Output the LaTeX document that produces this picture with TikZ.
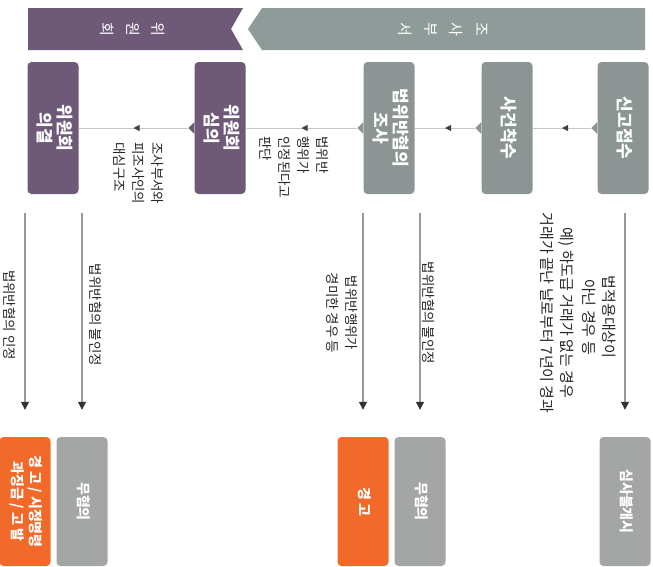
\documentclass[tikz,border=0pt]{standalone}
\usepackage{fontspec}
\setmainfont{Noto Sans CJK KR}
\usepackage{graphicx}
\usetikzlibrary{arrows.meta,decorations.markings}

\definecolor{jgray}{HTML}{8C9593}
\definecolor{bgray}{HTML}{8F9B98}
\definecolor{wpurple}{HTML}{6E5A78}
\definecolor{rorange}{HTML}{F26A2A}
\definecolor{rgray}{HTML}{A3A6A5}
\definecolor{lgray}{HTML}{C8C8C8}
\definecolor{agray}{HTML}{9A9A9A}

\newcommand{\vtxt}[1]{\rotatebox{-90}{\begin{tabular}{@{}c@{}}#1\end{tabular}}}

\begin{document}
\begin{tikzpicture}[x=1pt, y=-1pt,
  box/.style={rounded corners=4pt, minimum width=51pt, minimum height=132pt, inner sep=0pt,
    text=white, font=\fontsize{17}{19}\selectfont\bfseries},
  rbox/.style={box, minimum width=51pt, minimum height=129pt, font=\fontsize{14}{18}\selectfont\bfseries},
  bantxt/.style={rotate=-90, align=center, text=white, inner sep=0pt, font=\fontsize{15}{25.5}\selectfont},
  lbl/.style={rotate=-90, align=center, inner sep=0pt, text=black!85, font=\fontsize{13.5}{19}\selectfont},
  wide/.style={font=\fontsize{15}{20.5}\selectfont},
  flow/.style={draw=lgray, line width=1pt, postaction={decorate},
    decoration={markings, mark=at position 0.5 with {\arrow{Triangle[length=6pt,width=6pt,color=black!75]}}}},
  down/.style={draw=agray, line width=1.3pt, -{Triangle[length=8pt,width=8pt,color=black!80]},
    shorten <=19pt, shorten >=27pt}]
  \useasboundingbox (0,0) rectangle (653,566);

  % banner
  \fill[wpurple] (28,8) -- (243,8) -- (231,29) -- (243,50) -- (28,50) -- cycle;
  \fill[bgray] (262,8) -- (645,8) -- (645,50) -- (262,50) -- (248,29) -- cycle;
  \node[bantxt] (bwiwon) at (133,29) {위\\원\\회};
  \node[bantxt] (bjosa) at (443,29) {조\\사\\부\\서};

  % process boxes
  \node[box, fill=wpurple] (uigyeol) at (53,128) {\vtxt{위원회\\의결}};
  \node[box, fill=wpurple] (simui) at (220,128) {\vtxt{위원회\\심의}};
  \node[box, fill=jgray] (josa) at (389,128) {\vtxt{법위반혐의\\조사}};
  \node[box, fill=jgray] (chaksu) at (507,128) {\vtxt{사건착수}};
  \node[box, fill=jgray] (singo) at (623,128) {\vtxt{신고접수}};

  % outcome boxes
  \node[rbox, fill=rorange] (sijeong) at (25,501.5) {\vtxt{경 고 / 시정명령\\과징금 / 고 발}};
  \node[rbox, fill=rgray] (muhyeom2) at (82,501.5) {\vtxt{무혐의}};
  \node[rbox, fill=rorange] (gyeonggo) at (363,501.5) {\vtxt{경 고}};
  \node[rbox, fill=rgray] (muhyeom1) at (420,501.5) {\vtxt{무혐의}};
  \node[rbox, fill=rgray] (bulgaesi) at (625,501.5) {\vtxt{심사불개시}};

  % flow between boxes
  \draw[flow] ([xshift=-6pt]singo.west) -- (chaksu.east);
  \draw[flow] ([xshift=-6pt]chaksu.west) -- (josa.east);
  \draw[flow] ([xshift=-6pt]josa.west) -- (simui.east);
  \draw[flow] ([xshift=-6pt]simui.west) -- (uigyeol.east);
  \foreach \b/\c in {singo/jgray, chaksu/jgray, josa/jgray, simui/wpurple}
    \fill[\c] (\b.west) ++(0,-6) -- ++(-6,6) -- ++(6,6) -- cycle;

  \draw[down] (singo.south -| bulgaesi.north) -- (bulgaesi.north);
  \draw[down] (josa.south -| muhyeom1.north) -- (muhyeom1.north);
  \draw[down] (josa.south -| gyeonggo.north) -- (gyeonggo.north);
  \draw[down] (uigyeol.south -| muhyeom2.north) -- (muhyeom2.north);
  \draw[down] (uigyeol.south -| sijeong.north) -- (sijeong.north);

  % labels
  \node[lbl, anchor=west, align=left] (daesim) at (139,142) {조사부서와\\피조사인의\\대심구조};
  \node[lbl, anchor=west, align=left] (pandan) at (294,136) {법위반\\행위가\\인정된다고\\판단};
  \node[lbl] (injeong) at (10,315) {법위반혐의 인정};
  \node[lbl] (bulin2) at (96,315) {법위반혐의 불인정};
  \node[lbl] (gyeongmi) at (342,313) {법위반행위가\\경미한 경우 등};
  \node[lbl] (bulin1) at (429,313) {법위반혐의 불인정};
  \node[lbl, wide] (jeogyong) at (599,317) {법적용대상이\\아닌 경우 등};
  \node[lbl, wide] (yesi) at (557,313) {예) 하도급 거래가 없는 경우\\거래가 끝난 날로부터 7년이 경과};
\end{tikzpicture}
\end{document}
